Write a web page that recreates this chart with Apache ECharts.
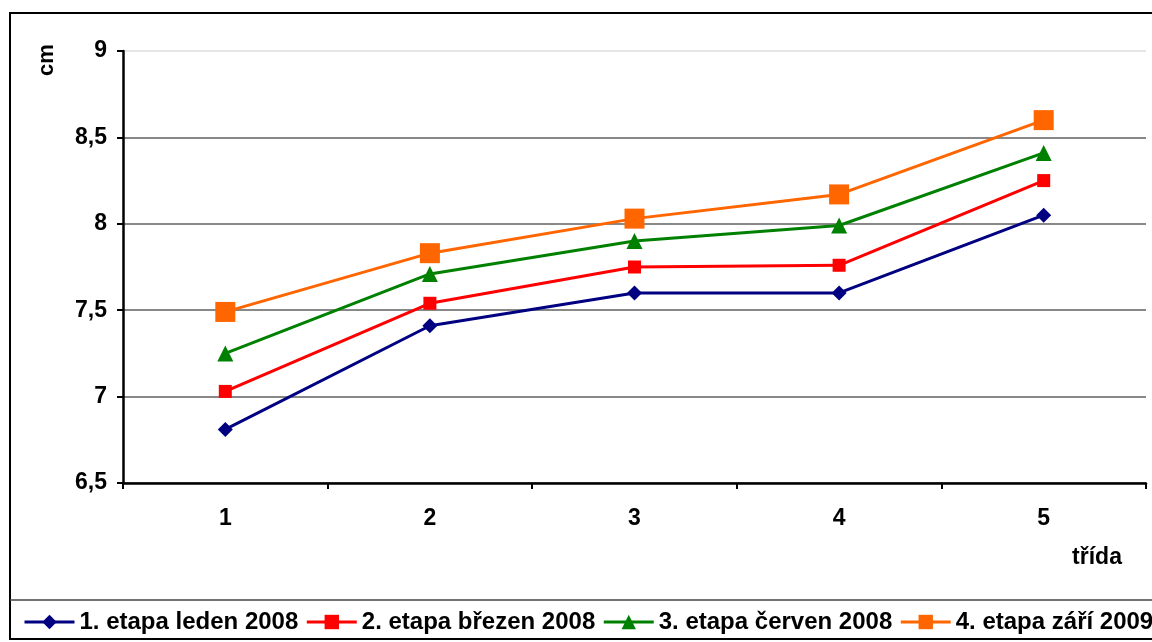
<!DOCTYPE html>
<html>
<head>
<meta charset="utf-8">
<script src="https://cdn.jsdelivr.net/npm/echarts@6/dist/echarts.min.js"></script>
<style>
html,body{margin:0;padding:0;background:#fff;}
#c{width:1152px;height:642px;}
</style>
</head>
<body>
<div id="c"></div>
<script>
const categories = ['1', '2', '3', '4', '5'];
const seriesNames = ['1. etapa leden 2008', '2. etapa březen 2008', '3. etapa červen 2008', '4. etapa září 2009'];
const s1 = [6.81, 7.41, 7.6, 7.6, 8.05];
const s2 = [7.03, 7.54, 7.75, 7.76, 8.25];
const s3 = [7.25, 7.71, 7.9, 7.99, 8.41];
const s4 = [7.49, 7.83, 8.03, 8.17, 8.6];
const yTicks = [6.5, 7, 7.5, 8, 8.5, 9];

const font = '"Liberation Sans", Arial, sans-serif';
const chart = echarts.init(document.getElementById('c'));

function mk(name, data, color, symbol, size) {
  return {
    name, type: 'line', data,
    symbol, symbolSize: size,
    lineStyle: { color, width: 3 },
    itemStyle: { color },
    animation: false
  };
}

chart.setOption({
  animation: false,
  backgroundColor: '#fff',
  grid: { left: 123, right: 6, top: 51, bottom: 159 },
  xAxis: {
    type: 'category', data: categories, boundaryGap: true,
    axisLine: { lineStyle: { color: '#000', width: 2.5 } },
    axisTick: { show: true, length: 6, lineStyle: { color: '#000', width: 2 }, alignWithLabel: false },
    axisLabel: { color: '#000', fontFamily: font, fontWeight: 'bold', fontSize: 23, margin: 24 },
    splitLine: { show: false }
  },
  yAxis: {
    type: 'value', min: 6.5, max: 9, interval: 0.5,
    axisLine: { show: true, lineStyle: { color: '#000', width: 2.5 } },
    axisTick: { show: true, length: 6, lineStyle: { color: '#000', width: 2 } },
    axisLabel: {
      color: '#000', fontFamily: font, fontWeight: 'bold', fontSize: 23, margin: 16,
      formatter: v => { const t = yTicks.find(x => Math.abs(x - v) < 1e-6); return t === undefined ? '' : String(t).replace('.', ','); }
    },
    splitLine: { show: true, lineStyle: { color: ['#888', '#888', '#888', '#888', '#888', '#e6e6e6'], width: 2 } }
  },
  legend: {
    left: 18, top: 605, width: 2000, itemWidth: 50, itemHeight: 18, itemGap: 7,
    data: seriesNames,
    lineStyle: { width: 3 },
    textStyle: { color: '#000', fontFamily: font, fontWeight: 'bold', fontSize: 24 }
  },
  series: [
    mk(seriesNames[0], s1, '#000080', 'diamond', 15),
    mk(seriesNames[1], s2, '#ff0000', 'rect', 13),
    mk(seriesNames[2], s3, '#008000', 'triangle', 16),
    mk(seriesNames[3], s4, '#ff6600', 'rect', 20)
  ],
  graphic: [
    { type: 'rect', shape: { x: 10, y: 13, width: 1200, height: 626 }, style: { fill: 'none', stroke: '#000', lineWidth: 2 }, silent: true, z: -1 },
    { type: 'line', shape: { x1: 10, y1: 600, x2: 1160, y2: 600 }, style: { stroke: '#444', lineWidth: 1.5 }, silent: true },
    { type: 'text', x: 47, y: 60, rotation: Math.PI / 2, style: { text: 'cm', fill: '#000', font: 'bold 22px ' + font, align: 'center', verticalAlign: 'middle' } },
    { type: 'text', x: 1097, y: 558, style: { text: 'třída', fill: '#000', font: 'bold 23px ' + font, align: 'center', verticalAlign: 'middle' } }
  ]
});
</script>
</body>
</html>
